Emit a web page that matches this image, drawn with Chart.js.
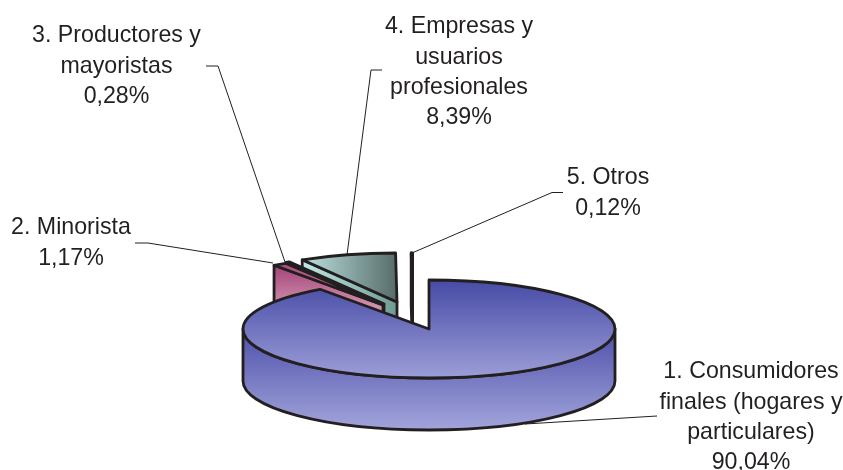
<!DOCTYPE html>
<html><head><meta charset="utf-8">
<style>html,body{margin:0;padding:0;background:#fff}#w{width:843px;height:470px;position:relative}</style>
<script src="https://cdn.jsdelivr.net/npm/chart.js@4"></script>
</head><body><div id="w"><canvas id="c" width="843" height="470"></canvas></div>
<script>
const categories = ["1. Consumidores finales (hogares y particulares)","2. Minorista","3. Productores y mayoristas","4. Empresas y usuarios profesionales","5. Otros"];
const values = [90.04,1.17,0.28,8.39,0.12];
const labelLines = [
 ["1. Consumidores","finales (hogares y","particulares)","90,04%"],
 ["2. Minorista","1,17%"],
 ["3. Productores y","mayoristas","0,28%"],
 ["4. Empresas y","usuarios","profesionales","8,39%"],
 ["5. Otros","0,12%"]];
const labelCenterX = [751,71,116.5,459,608];
const labelFirstY = [372,228,36,27,178];
const leaders = [
 [[525,424],[657,416]],
 [[135,243],[148,243],[273,263]],
 [[206,66],[218,66],[285,262]],
 [[382,70],[371,70],[347,255]],
 [[412,253],[552,192.5],[563,192.5]]];
const apexX = [429,383,384,397,412.6];
const apexY = [329,305,304,302,302];
const drawOrder = [4,3,2,1,0];
const R = 186, squash = 49/186, depth = 52;
const ink = "#231f20", outline = 2.8;

function grad(ctx,x0,y0,x1,y1,c0,c1){const g=ctx.createLinearGradient(x0,y0,x1,y1);g.addColorStop(0,c0);g.addColorStop(1,c1);return g;}
function topFill(context){
  const ch=context.chart,c=ch.ctx,i=context.dataIndex;
  const cx=ch.width/2,cy=ch.height/2;
  if(i===0) return grad(c,0,cy-R,0,cy+R,"#474ba5","#9c9ed8");
  if(i===1||i===2) return grad(c,cx-R*.6,0,cx,0,"#a8487c","#c98aa6");
  if(i===3) return grad(c,cx-R*.52,0,cx,0,"#bfe5e2","#566c6a");
  return "#ffffff";
}
const pie3d = {
 id:"pie3d",
 beforeDatasetDraw(chart){
  const ctx=chart.ctx, arcs=chart.getDatasetMeta(0).data;
  for(const i of drawOrder){
    const a=arcs[i], ax=apexX[i], ay=apexY[i], s=a.startAngle, e=a.endAngle, ry=R*squash;
    const px=t=>ax+R*Math.cos(t), py=t=>ay+ry*Math.sin(t);
    ctx.save();
    ctx.lineWidth=outline; ctx.strokeStyle=ink; ctx.lineJoin="round";
    const r0=Math.max(s,0), r1=Math.min(e,Math.PI);
    if(r1>r0){
      ctx.beginPath();
      ctx.ellipse(ax,ay,R,ry,0,r0,r1);
      ctx.ellipse(ax,ay+depth,R,ry,0,r1,r0,true);
      ctx.closePath();
      ctx.fillStyle=grad(ctx,0,ay+4,0,ay+depth+ry,"#5153ac","#a2a5db");
      ctx.fill(); ctx.stroke();
    } else {
      ctx.beginPath();
      ctx.moveTo(ax,ay); ctx.lineTo(px(s),py(s));
      ctx.lineTo(px(s),py(s)+depth); ctx.lineTo(ax,ay+depth); ctx.closePath();
      if(i===1||i===2) ctx.fillStyle=grad(ctx,0,py(s),0,py(s)+48,"#a4437a","#d79db2");
      else if(i===3) ctx.fillStyle=grad(ctx,px(s),0,ax,0,"#bfe8e6","#6f9a92");
      else ctx.fillStyle="#ffffff";
      ctx.fill(); ctx.stroke();
    }
    ctx.save();
    ctx.translate(ax,ay); ctx.scale(1,squash); ctx.translate(-a.x,-a.y);
    a.draw(ctx);
    ctx.restore();
    ctx.beginPath();
    ctx.moveTo(ax,ay);
    ctx.ellipse(ax,ay,R,ry,0,s,e);
    ctx.closePath();
    ctx.stroke();
    ctx.restore();
  }
  return false;
 },
 afterDraw(chart){
  const ctx=chart.ctx;
  ctx.save();
  ctx.strokeStyle=ink; ctx.lineWidth=1;
  for(const l of leaders){
    ctx.beginPath(); l.forEach((p,j)=>j?ctx.lineTo(p[0],p[1]):ctx.moveTo(p[0],p[1])); ctx.stroke();
  }
  ctx.fillStyle=ink; ctx.font='23.2px "Liberation Sans"'; ctx.textAlign="center"; ctx.textBaseline="middle";
  labelLines.forEach((ls,i)=>ls.forEach((t,j)=>ctx.fillText(t,labelCenterX[i],labelFirstY[i]+j*30.3)));
  ctx.restore();
 }
};
new Chart(document.getElementById("c"),{
 type:"pie",
 data:{labels:categories,datasets:[{data:values,backgroundColor:topFill,borderWidth:0,radius:R}]},
 options:{responsive:false,animation:false,plugins:{legend:{display:false},tooltip:{enabled:false}},layout:{padding:0}},
 plugins:[pie3d]
});
</script></body></html>
